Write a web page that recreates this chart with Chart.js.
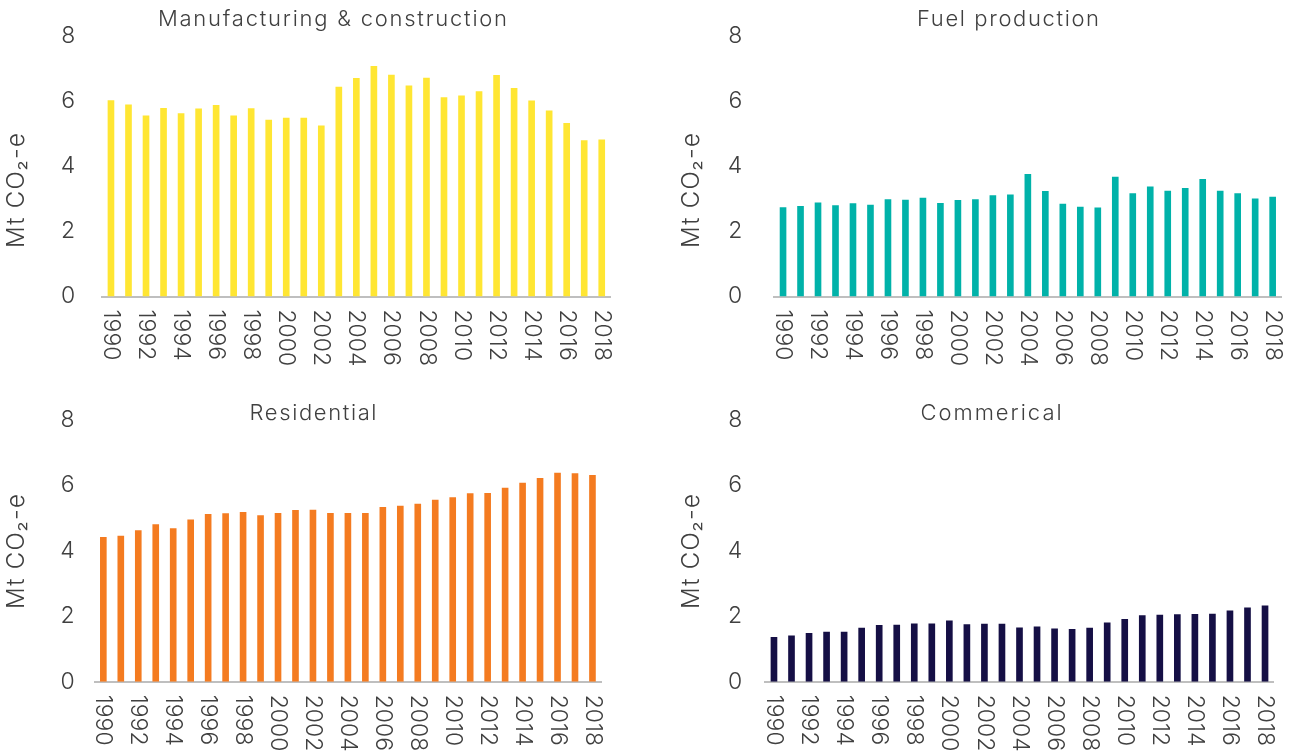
<!DOCTYPE html>
<html>
<head>
<meta charset="utf-8">
<script src="https://cdn.jsdelivr.net/npm/chart.js@4.4.1/dist/chart.umd.min.js"></script>
<style>
html, body { margin:0; padding:0; background:#ffffff; overflow:hidden; width:1295px; height:753px; }
.panel { position:absolute; }
canvas { display:block; }
</style>
</head>
<body>
<div class="panel" style="left:0px;top:0px;"><canvas id="c0" width="650" height="390" style="width:650px;height:390px"></canvas></div>
<div class="panel" style="left:650px;top:0px;"><canvas id="c1" width="645" height="390" style="width:645px;height:390px"></canvas></div>
<div class="panel" style="left:0px;top:390px;"><canvas id="c2" width="650" height="400" style="width:650px;height:400px"></canvas></div>
<div class="panel" style="left:650px;top:390px;"><canvas id="c3" width="645" height="400" style="width:645px;height:400px"></canvas></div>
<script>
// ---------------- DATA ----------------
const years = ['1990','1991','1992','1993','1994','1995','1996','1997','1998','1999',
               '2000','2001','2002','2003','2004','2005','2006','2007','2008','2009',
               '2010','2011','2012','2013','2014','2015','2016','2017','2018'];
const shownYearLabels = ['1990','1992','1994','1996','1998','2000','2002','2004','2006','2008',
                         '2010','2012','2014','2016','2018'];
const yTickValues = [0, 2, 4, 6, 8];

const manufacturing = [6.03, 5.90, 5.56, 5.79, 5.63, 5.77, 5.88, 5.56, 5.78, 5.43,
                       5.49, 5.49, 5.25, 6.44, 6.71, 7.08, 6.81, 6.48, 6.72, 6.12,
                       6.17, 6.30, 6.80, 6.40, 6.02, 5.71, 5.33, 4.80, 4.82];
const fuelProduction = [2.74, 2.78, 2.89, 2.80, 2.86, 2.82, 2.99, 2.97, 3.03, 2.87,
                        2.96, 2.99, 3.11, 3.13, 3.76, 3.24, 2.85, 2.76, 2.73, 3.68,
                        3.17, 3.38, 3.25, 3.33, 3.61, 3.25, 3.17, 3.01, 3.06];
const residential = [4.42, 4.46, 4.63, 4.81, 4.69, 4.96, 5.13, 5.15, 5.19, 5.09,
                     5.16, 5.25, 5.26, 5.16, 5.16, 5.16, 5.34, 5.38, 5.44, 5.56,
                     5.64, 5.76, 5.77, 5.93, 6.08, 6.23, 6.39, 6.37, 6.32];
const commercial = [1.37, 1.41, 1.49, 1.53, 1.53, 1.65, 1.73, 1.74, 1.78, 1.78,
                    1.87, 1.76, 1.77, 1.77, 1.66, 1.69, 1.63, 1.61, 1.65, 1.81,
                    1.92, 2.03, 2.05, 2.06, 2.07, 2.08, 2.18, 2.27, 2.33];

const titles = ['Manufacturing & construction', 'Fuel production', 'Residential', 'Commerical'];
const yAxisTitle = 'Mt CO\u2082-e';

// ---------------- STYLE / LAYOUT ----------------
const FONT_FAMILY = "Inter, 'Open Sans', Lato, sans-serif";
const FONT_WEIGHT = 300;
const TEXT_COLOR = '#404040';
const TICK_SIZE = 23;

const panels = [
  { id:'c0', data: manufacturing,  color:'#FFE633', w:650, h:390,
    area:{left:102.2, right:610.5, top:36, bottom:296.5}, tickPad:27,
    title:{x:332.5, y:19, width:349}, ytitle:{x:17, y:190.5, width:115} },
  { id:'c1', data: fuelProduction, color:'#00B2A9', w:645, h:390,
    area:{left:124.3, right:631.4, top:36, bottom:296.5}, tickPad:32,
    title:{x:358, y:19, width:182}, ytitle:{x:42, y:190.5, width:115} },
  { id:'c2', data: residential,    color:'#F47B20', w:650, h:400,
    area:{left:94.6, right:601.2, top:30, bottom:291.7}, tickPad:20,
    title:{x:313, y:23, width:127}, ytitle:{x:17, y:161.5, width:115} },
  { id:'c3', data: commercial,     color:'#150F45', w:645, h:400,
    area:{left:115.2, right:623.8, top:30, bottom:291.7}, tickPad:23,
    title:{x:341, y:23, width:142}, ytitle:{x:42, y:161.5, width:115} }
];

function fontStr(size) { return FONT_WEIGHT + ' ' + size + 'px ' + FONT_FAMILY; }

function drawFittedText(ctx, text, x, y, size, targetWidth, rotation) {
  ctx.save();
  ctx.font = fontStr(size);
  let spacing = 0;
  if ('letterSpacing' in ctx) {
    ctx.letterSpacing = '0px';
    const w = ctx.measureText(text).width;
    spacing = (targetWidth - w) / Math.max(text.length - 1, 1);
    spacing = Math.max(-1, Math.min(2, spacing));
    ctx.letterSpacing = spacing.toFixed(2) + 'px';
  }
  ctx.fillStyle = TEXT_COLOR;
  ctx.textAlign = 'center';
  ctx.textBaseline = 'middle';
  ctx.translate(x, y);
  if (rotation) ctx.rotate(rotation);
  ctx.fillText(text, spacing / 2, 0);
  ctx.restore();
}

const textPlugin = {
  id: 'panelText',
  afterDraw(chart, args, opts) {
    const ctx = chart.ctx;
    const xs = chart.scales.x;
    const area = chart.chartArea;
    // rotated category labels (reading top to bottom)
    ctx.save();
    ctx.font = fontStr(TICK_SIZE);
    ctx.fillStyle = TEXT_COLOR;
    ctx.textAlign = 'left';
    ctx.textBaseline = 'middle';
    years.forEach((yr, i) => {
      if (!shownYearLabels.includes(yr)) return;
      const px = xs.getPixelForValue(i);
      ctx.save();
      ctx.translate(px, area.bottom + 13);
      ctx.rotate(Math.PI / 2);
      ctx.fillText(yr, 0, 0);
      ctx.restore();
    });
    ctx.restore();
    // panel title
    drawFittedText(ctx, opts.title, opts.tpos.x, opts.tpos.y, 22, opts.tpos.width, 0);
    // y-axis title
    drawFittedText(ctx, yAxisTitle, opts.ypos.x, opts.ypos.y, 24, opts.ypos.width, -Math.PI / 2);
  }
};

panels.forEach((p, idx) => {
  const ctx = document.getElementById(p.id).getContext('2d');
  new Chart(ctx, {
    type: 'bar',
    data: {
      labels: years,
      datasets: [{
        data: p.data,
        backgroundColor: p.color,
        borderWidth: 0,
        barPercentage: 0.38,
        categoryPercentage: 1.0
      }]
    },
    options: {
      responsive: false,
      animation: false,
      devicePixelRatio: 1,
      layout: {
        padding: { left: 0, top: p.area.top, right: p.w - p.area.right, bottom: p.h - p.area.bottom }
      },
      plugins: {
        legend: { display: false },
        tooltip: { enabled: false },
        title: { display: false },
        panelText: { title: titles[idx], tpos: p.title, ypos: p.ytitle }
      },
      scales: {
        x: {
          offset: true,
          grid: { display: false, drawTicks: false },
          border: { display: true, color: '#BFBFBF', width: 2 },
          ticks: { display: false },
          afterFit(scale) { scale.height = 0; scale.paddingLeft = 0; scale.paddingRight = 0; }
        },
        y: {
          min: 0, max: 8,
          afterBuildTicks(scale) { scale.ticks = yTickValues.map(v => ({ value: v })); },
          grid: { display: false, drawTicks: false },
          border: { display: false },
          ticks: {
            padding: p.tickPad,
            color: TEXT_COLOR,
            font: { family: FONT_FAMILY, size: TICK_SIZE, weight: FONT_WEIGHT }
          },
          afterFit(scale) {
            scale.width = p.area.left;
            scale.paddingTop = 0;
            scale.paddingBottom = 0;
          }
        }
      }
    },
    plugins: [textPlugin]
  });
});
</script>
</body>
</html>
